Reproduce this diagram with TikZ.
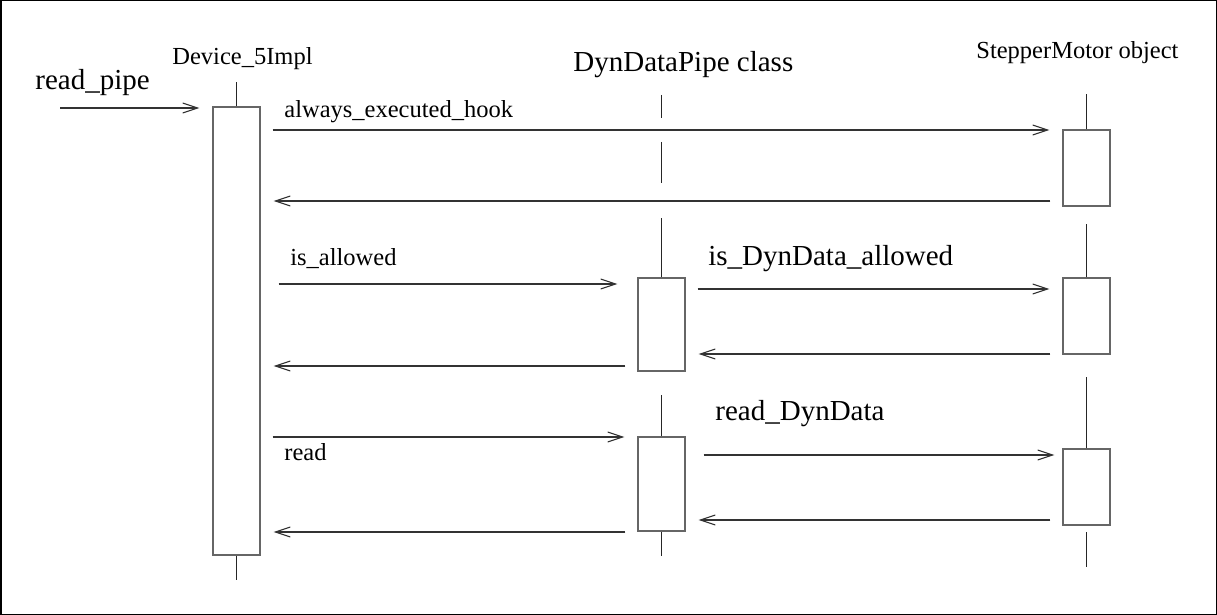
\documentclass[tikz,border=0pt]{standalone}
\usepackage{fontspec}
\setmainfont{Liberation Serif}
\usetikzlibrary{arrows.meta}
\newcommand\smalltxt{\fontsize{12.25}{14}\selectfont}
\newcommand\bigtxt{\fontsize{14.5}{17}\selectfont}
\begin{document}
\begin{tikzpicture}[x=0.5pt,y=-0.5pt,
    act/.style={rectangle,draw=black!60,line width=0.55pt,minimum width=23.5pt,inner sep=0pt},
    life/.style={draw=black!85,line width=0.5pt},
    msg/.style={draw=black!80,line width=0.55pt,-{Straight Barb[length=7.5pt,width=5pt]},shorten <=6pt,shorten >=6.5pt},
    lbl/.style={anchor=base west,inner sep=0pt}]
    \useasboundingbox (0,0) rectangle (1217,615);
    \draw[line width=1pt] (0.5,0.5) rectangle (1216.5,614.5);
    \node[lbl] (tdev) at (172,65) {\smalltxt Device\_5Impl};
    \node[lbl] (tpipe) at (573,72) {\bigtxt DynDataPipe class};
    \node[lbl] (tstep) at (976,59) {\smalltxt StepperMotor object};
    \node[act,minimum height=224pt] (dev) at (236.5,331) {};
    \node[act,minimum height=46.5pt] (p1) at (661.5,324.5) {};
    \node[act,minimum height=47pt] (p2) at (661.5,484) {};
    \node[act,minimum height=38pt] (s1) at (1086.5,168) {};
    \node[act,minimum height=38pt] (s2) at (1086.5,316) {};
    \node[act,minimum height=38pt] (s3) at (1086.5,487) {};
    \draw[life] (dev.north) -- ++(0,-24);
    \draw[life] (dev.south) -- ++(0,24);
    \draw[life] (661.5,95) -- (661.5,118);
    \draw[life] (661.5,142) -- (661.5,183);
    \draw[life] (p1.north) -- ++(0,-59);
    \draw[life] (p2.north) -- ++(0,-41);
    \draw[life] (p2.south) -- ++(0,24);
    \draw[life] (s1.north) -- ++(0,-35);
    \draw[life] (s2.north) -- ++(0,-53);
    \draw[life] (s3.north) -- ++(0,-71);
    \draw[life] (1086.5,532) -- (1086.5,567);
    \coordinate (start) at (60,108);
    \node[lbl] (tread) at (35,90) {\bigtxt read\_pipe};
    \draw[msg,shorten <=0pt] (start) -- (dev.west |- start);
    \node[lbl] (thook) at (284,118) {\smalltxt always\_executed\_hook};
    \draw[msg] (dev.east |- 0,130) -- (s1.west |- 0,130);
    \draw[msg] (s1.west |- 0,201) -- (dev.east |- 0,201);
    \node[lbl] (tallow) at (290,265) {\smalltxt is\_allowed};
    \draw[msg,shorten <=9pt,shorten >=10pt] (dev.east |- 0,284) -- (p1.west |- 0,284);
    \draw[msg] (p1.west |- 0,366) -- (dev.east |- 0,366);
    \node[lbl] (tdallow) at (708,265) {\bigtxt is\_DynData\_allowed};
    \draw[msg] (p1.east |- 0,289) -- (s2.west |- 0,289);
    \draw[msg] (s2.west |- 0,354) -- (p1.east |- 0,354);
    \node[lbl] (tr) at (284,460) {\smalltxt read};
    \draw[msg] (dev.east |- 0,437) -- (p2.west |- 0,437);
    \draw[msg] (p2.west |- 0,532) -- (dev.east |- 0,532);
    \node[lbl] (tdread) at (715,420) {\bigtxt read\_DynData};
    \draw[msg,shorten <=9pt,shorten >=4pt] (p2.east |- 0,455) -- (s3.west |- 0,455);
    \draw[msg] (s3.west |- 0,520) -- (p2.east |- 0,520);
\end{tikzpicture}
\end{document}
